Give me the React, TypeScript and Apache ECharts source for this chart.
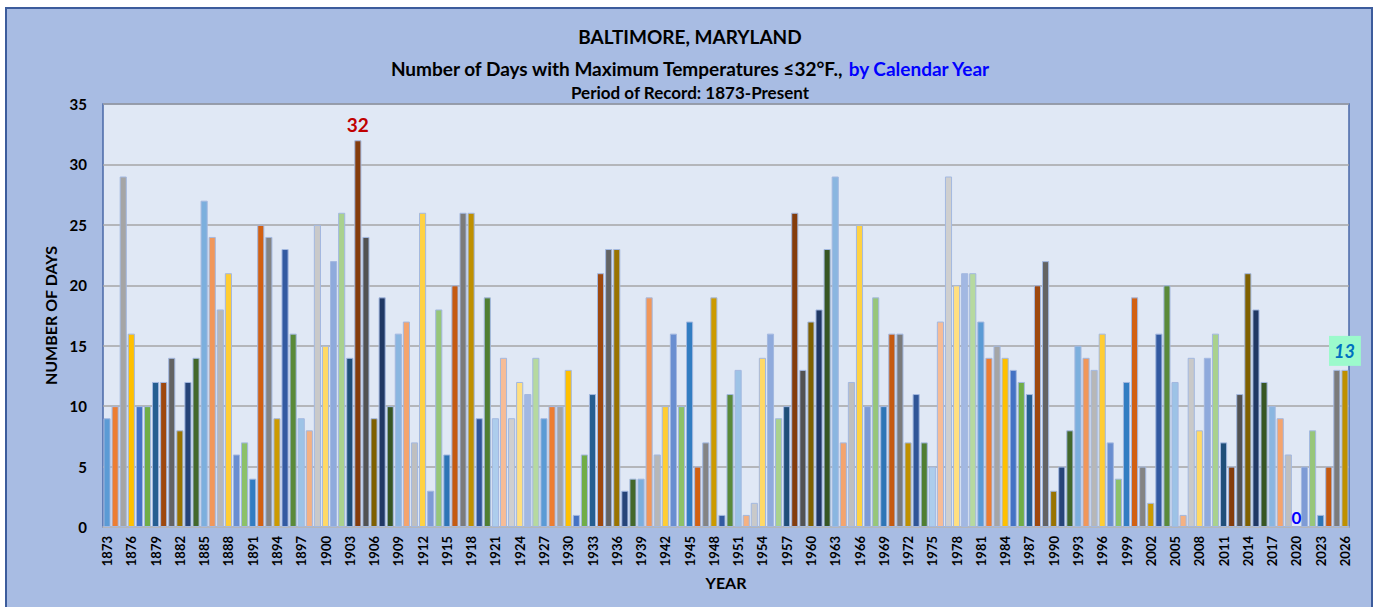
import React, { useEffect, useRef } from "react";
import * as echarts from "echarts";

const FIRST_YEAR = 1873;
const LAST_YEAR = 2026;
const years: string[] = [];
for (let y = FIRST_YEAR; y <= LAST_YEAR; y++) years.push(String(y));

// Number of days with max temp <= 32F, 1873..2026
const days: number[] = [
  9, 10, 29, 16, 10, 10, 12, 12, 14, 8,
  12, 14, 27, 24, 18, 21, 6, 7, 4, 25,
  24, 9, 23, 16, 9, 8, 25, 15, 22, 26,
  14, 32, 24, 9, 19, 10, 16, 17, 7, 26,
  3, 18, 6, 20, 26, 26, 9, 19, 9, 14,
  9, 12, 11, 14, 9, 10, 10, 13, 1, 6,
  11, 21, 23, 23, 3, 4, 4, 19, 6, 10,
  16, 10, 17, 5, 7, 19, 1, 11, 13, 1,
  2, 14, 16, 9, 10, 26, 13, 17, 18, 23,
  29, 7, 12, 25, 10, 19, 10, 16, 16, 7,
  11, 7, 5, 17, 29, 20, 21, 21, 17, 14,
  15, 14, 13, 12, 11, 20, 22, 3, 5, 8,
  15, 14, 13, 16, 7, 4, 12, 19, 5, 2,
  16, 20, 12, 1, 14, 8, 14, 16, 7, 5,
  11, 21, 18, 12, 10, 9, 6, 0, 5, 8,
  1, 5, 13, 13,
];

const yTicks = { min: 0, max: 35, interval: 5 };

const RECORD_YEAR = "1904";
const ZERO_YEAR = "2020";
const CURRENT_YEAR = "2026";

const palette: string[] = [
  "#5B9BD5", "#ED7D31", "#A5A5A5", "#FFC000", "#4472C4", "#70AD47",
  "#255E91", "#9E480E", "#636363", "#997300", "#264478", "#43682B",
  "#7CAFDD", "#F1975A", "#B7B7B7", "#FFCD33", "#698ED0", "#8CC168",
  "#327DC2", "#D26012", "#848484", "#CC9A00", "#335AA1", "#5A8A39",
  "#9DC3E6", "#F4B183", "#C9C9C9", "#FFD966", "#8FAADC", "#A9D18E",
  "#1F4E79", "#843C0C", "#525252", "#7F6000", "#203864", "#375623",
  "#8AB6E0", "#F4A46E", "#BFBFBF", "#FFD243", "#7E9BD5", "#97C67A",
  "#2E75B6", "#C55A11", "#7B7B7B", "#BF9000", "#2F5597", "#507E32",
  "#ADCDEC", "#F6BC97", "#CFCFCF", "#FFDF80", "#A2B8E2", "#B6D9A0",
];

const FONT = "Lato, 'Open Sans', sans-serif";

export default function App() {
  const ref = useRef<HTMLDivElement>(null);
  useEffect(() => {
    if (!ref.current) return;
    const chart = echarts.init(ref.current, undefined, { renderer: "svg" });

    const data = days.map((v, i) => {
      const year = years[i];
      const item: any = {
        value: v,
        itemStyle: { color: palette[i % palette.length] },
      };
      if (year === RECORD_YEAR) {
        item.label = {
          show: true,
          position: "top",
          distance: 6,
          color: "#C00000",
          fontSize: 19,
          fontWeight: "bold",
          fontFamily: FONT,
        };
      } else if (year === ZERO_YEAR) {
        item.label = {
          show: true,
          position: "top",
          distance: 1,
          color: "#0000FF",
          fontSize: 17,
          fontWeight: "bold",
          fontFamily: FONT,
        };
      } else if (year === CURRENT_YEAR) {
        item.label = {
          show: true,
          position: "top",
          distance: 4,
          color: "#0070C0",
          fontSize: 18,
          fontWeight: "bold",
          fontStyle: "italic",
          fontFamily: FONT,
          backgroundColor: "#9CFACC",
          padding: [6, 6, 6, 5],
        };
      }
      return item;
    });

    chart.setOption({
      animation: false,
      backgroundColor: "#ffffff",
      textStyle: { fontFamily: FONT },
      graphic: [
        {
          type: "rect",
          z: -10,
          shape: { x: 6, y: 8, width: 1366, height: 640 },
          style: { fill: "#A8BCE3", stroke: "#3C5C9C", lineWidth: 2 },
          silent: true,
        },
      ],
      title: [
        {
          text: "BALTIMORE, MARYLAND",
          left: 690,
          top: 27,
          padding: 0,
          textAlign: "center",
          textStyle: { fontSize: 19, fontWeight: "bold", color: "#000", fontFamily: FONT },
        },
        {
          text: "{a|Number of Days with Maximum Temperatures ≤32°F., }{b|by Calendar Year}",
          left: 690,
          top: 59,
          padding: 0,
          textAlign: "center",
          textStyle: {
            fontFamily: FONT,
            rich: {
              a: { fontSize: 19, fontWeight: "bold", color: "#000", fontFamily: FONT },
              b: { fontSize: 19, fontWeight: "bold", color: "#0000FF", fontFamily: FONT },
            },
          },
        },
        {
          text: "Period of Record: 1873-Present",
          left: 690,
          top: 84,
          padding: 0,
          textAlign: "center",
          textStyle: { fontSize: 17, fontWeight: "bold", color: "#000", fontFamily: FONT },
        },
      ],
      grid: {
        left: 103,
        right: 26,
        top: 104,
        bottom: 80,
        show: true,
        backgroundColor: "#E0E8F5",
        borderColor: "#4A68A8",
        borderWidth: 1.5,
      },
      xAxis: {
        type: "category",
        data: years,
        name: "YEAR",
        nameLocation: "middle",
        nameGap: 47,
        nameTextStyle: { fontSize: 16, fontWeight: "bold", color: "#000", fontFamily: FONT },
        axisLine: { show: true, lineStyle: { color: "#BFBFBF", width: 1.5 } },
        axisTick: { show: false },
        axisLabel: {
          interval: 2,
          rotate: 90,
          margin: 9,
          fontSize: 13,
          fontWeight: "bold",
          color: "#000",
          fontFamily: FONT,
        },
      },
      yAxis: {
        type: "value",
        min: yTicks.min,
        max: yTicks.max,
        interval: yTicks.interval,
        name: "NUMBER OF DAYS",
        nameLocation: "middle",
        nameRotate: 90,
        nameGap: 32,
        nameTextStyle: { fontSize: 16, fontWeight: "bold", color: "#000", fontFamily: FONT },
        axisLine: { show: false },
        axisTick: { show: false },
        axisLabel: {
          margin: 16,
          fontSize: 15,
          fontWeight: "bold",
          color: "#000",
          fontFamily: FONT,
        },
        splitLine: { show: true, lineStyle: { color: "#A6A6A6", width: 1.5 } },
      },
      series: [
        {
          type: "bar",
          data,
          barCategoryGap: "12%",
          itemStyle: { borderColor: "#A3B8E0", borderWidth: 1 },
        },
      ],
    });
    return () => chart.dispose();
  }, []);

  return (
    <div
      ref={ref}
      style={{ position: "fixed", left: 0, top: 0, width: 1375, height: 607 }}
    />
  );
}
